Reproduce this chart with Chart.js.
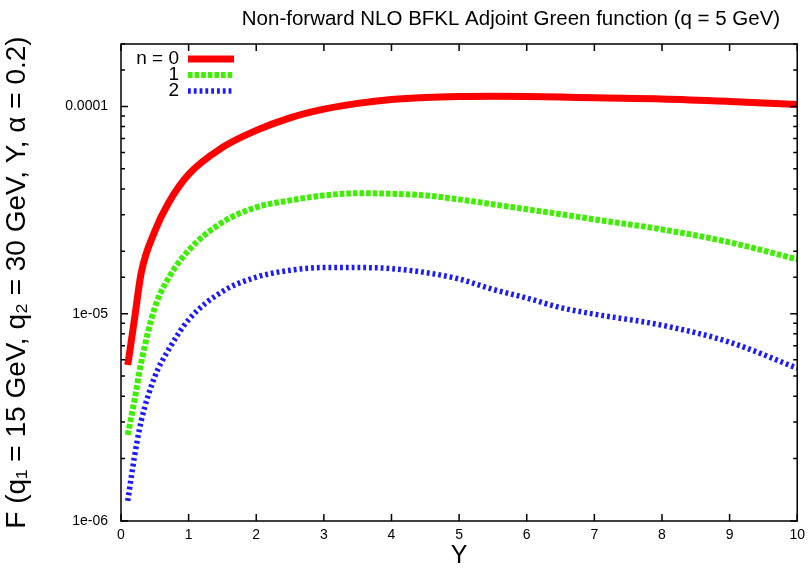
<!DOCTYPE html>
<html>
<head>
<meta charset="utf-8">
<script src="https://cdn.jsdelivr.net/npm/chart.js@4/dist/chart.umd.min.js"></script>
<style>
  html, body { margin: 0; padding: 0; background: #fff; }
  #wrap { width: 811px; height: 571px; }
</style>
</head>
<body>
<div id="wrap"><canvas id="bfklChart" width="811" height="571"></canvas></div>
<script>
// rapidity grid Y and the Green function for n = 0, 1, 2
const rapidity = [0.1, 0.2, 0.3, 0.5, 0.7, 1, 1.5, 2, 2.5, 3, 3.5, 4, 4.5, 5, 5.5, 6, 6.5, 7, 8, 9, 10];
const greenN0 = [5.65e-6, 9.45e-6, 1.58e-5, 2.5e-5, 3.41e-5, 4.7e-5, 6.34e-5, 7.66e-5, 8.81e-5, 9.7e-5, 1.034e-4,
  1.08e-4, 1.105e-4, 1.117e-4, 1.12e-4, 1.117e-4, 1.11e-4, 1.10e-4, 1.087e-4, 1.057e-4, 1.02e-4];
const greenN1 = [2.6e-6, 3.83e-6, 5.84e-6, 1.07e-5, 1.48e-5, 2.02e-5, 2.76e-5, 3.26e-5, 3.52e-5, 3.72e-5, 3.81e-5,
  3.79e-5, 3.72e-5, 3.56e-5, 3.37e-5, 3.19e-5, 3.02e-5, 2.85e-5, 2.55e-5, 2.21e-5, 1.83e-5];
const greenN2 = [1.25e-6, 2.05e-6, 3.05e-6, 4.97e-6, 6.67e-6, 9.35e-6, 1.28e-5, 1.5e-5, 1.62e-5, 1.67e-5, 1.67e-5,
  1.65e-5, 1.58e-5, 1.47e-5, 1.31e-5, 1.19e-5, 1.07e-5, 9.95e-6, 8.8e-6, 7.29e-6, 5.46e-6];
const seriesLabels = ['n = 0', '1', '2'];
const yTickValues = [1e-6, 1e-5, 1e-4];
const yTickLabels = ['1e-06', '1e-05', '0.0001'];

const FONT = "'Liberation Sans', Arial, Helvetica, sans-serif";

function toPoints(vals) {
  return rapidity.map((y, i) => ({ x: y, y: vals[i] }));
}

// gnuplot style frame: box + inward ticks on all four sides
const framePlugin = {
  id: 'frame',
  afterDraw(chart) {
    const ctx = chart.ctx;
    const a = chart.chartArea;
    const xs = chart.scales.x, ys = chart.scales.y;
    ctx.save();
    ctx.strokeStyle = '#000';
    ctx.lineWidth = 1.5;
    ctx.beginPath();
    xs.ticks.forEach(t => {
      const px = xs.getPixelForValue(t.value);
      ctx.moveTo(px, a.bottom); ctx.lineTo(px, a.bottom - 7);
      ctx.moveTo(px, a.top); ctx.lineTo(px, a.top + 7);
    });
    ys.ticks.forEach(t => {
      const py = ys.getPixelForValue(t.value);
      const m = t.value / Math.pow(10, Math.floor(Math.log10(t.value) + 1e-9));
      const len = Math.abs(m - 1) < 1e-6 ? 7 : 4;
      ctx.moveTo(a.left, py); ctx.lineTo(a.left + len, py);
      ctx.moveTo(a.right, py); ctx.lineTo(a.right - len, py);
    });
    ctx.stroke();
    ctx.strokeRect(a.left, a.top, a.right - a.left, a.bottom - a.top);

    // title
    ctx.fillStyle = '#000';
    ctx.font = '20.5px ' + FONT;
    ctx.textAlign = 'center';
    ctx.textBaseline = 'middle';
    ctx.fillText('Non-forward NLO BFKL Adjoint Green function (q = 5 GeV)', 511, 19);

    // key, top left inside the frame
    ctx.font = '19px ' + FONT;
    ctx.textAlign = 'right';
    chart.data.datasets.forEach((ds, i) => {
      const y = a.top + 15 + i * 16;
      ctx.fillText(ds.label, a.left + 58, y);
      ctx.save();
      ctx.strokeStyle = ds.borderColor;
      ctx.lineWidth = ds.borderWidth;
      ctx.setLineDash(ds.borderDash || []);
      ctx.lineCap = 'butt';
      ctx.beginPath();
      ctx.moveTo(a.left + 67, y);
      ctx.lineTo(a.left + 113, y);
      ctx.stroke();
      ctx.restore();
    });
    ctx.restore();
  }
};

new Chart(document.getElementById('bfklChart'), {
  type: 'line',
  data: {
    datasets: [{
      label: seriesLabels[0],
      data: toPoints(greenN0),
      borderColor: '#ff0000',
      borderWidth: 7,
      pointRadius: 0,
      cubicInterpolationMode: 'monotone'
    }, {
      label: seriesLabels[1],
      data: toPoints(greenN1),
      borderColor: '#3cf000',
      borderWidth: 6,
      borderDash: [4.6, 2],
      borderCapStyle: 'butt',
      pointRadius: 0,
      cubicInterpolationMode: 'monotone'
    }, {
      label: seriesLabels[2],
      data: toPoints(greenN2),
      borderColor: '#1a1aff',
      borderWidth: 5.5,
      borderDash: [2.8, 3],
      borderCapStyle: 'butt',
      pointRadius: 0,
      cubicInterpolationMode: 'monotone'
    }]
  },
  options: {
    responsive: false,
    animation: false,
    layout: { padding: { top: 44, right: 13, left: 0, bottom: 0 } },
    plugins: {
      legend: { display: false },
      title: { display: false },
      tooltip: { enabled: false }
    },
    scales: {
      x: {
        type: 'linear',
        min: 0,
        max: 10,
        ticks: { stepSize: 1, color: '#000', font: { family: FONT, size: 14 }, padding: 6, maxRotation: 0 },
        grid: { display: false, drawTicks: false },
        border: { display: false },
        title: { display: true, text: 'Y', color: '#000', font: { family: FONT, size: 25 }, padding: 0 },
        afterFit: s => { s.height = 50; }
      },
      y: {
        type: 'logarithmic',
        min: 1e-6,
        max: 2e-4,
        ticks: {
          autoSkip: false,
          color: '#000',
          font: { family: FONT, size: 14 },
          padding: 13,
          callback: v => {
            const k = yTickValues.findIndex(t => Math.abs(v - t) / t < 1e-6);
            return k < 0 ? '' : yTickLabels[k];
          }
        },
        grid: { display: false, drawTicks: false },
        border: { display: false },
        title: {
          display: true,
          text: 'F (q\u2081 = 15 GeV, q\u2082 = 30 GeV, Y, \u03b1 = 0.2)',
          color: '#000',
          font: { family: FONT, size: 28 },
          padding: 0
        },
        afterFit: s => { s.width = 121; }
      }
    }
  },
  plugins: [framePlugin]
});
</script>
</body>
</html>
